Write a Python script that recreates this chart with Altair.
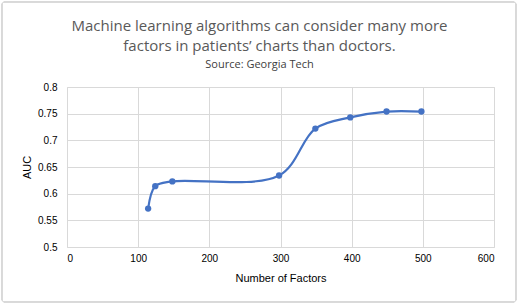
import altair as alt
import pandas as pd

factors = [114, 124, 148, 298, 349, 398, 449, 498]
auc = [0.572, 0.614, 0.623, 0.634, 0.722, 0.743, 0.754, 0.754]

df = pd.DataFrame({"factors": factors, "auc": auc})

FONT = "Open Sans"
GRAY = "#595959"
GRID = "#d9d9d9"
BLUE = "#4472C4"

W, H = 427, 160

base = alt.Chart(df).encode(
    x=alt.X("factors:Q", title="Number of Factors",
            scale=alt.Scale(domain=[0, 600], nice=False, zero=False),
            axis=alt.Axis(values=[0, 100, 200, 300, 400, 500, 600], grid=True,
                          gridColor=GRID, domain=False, ticks=False,
                          labelPadding=6, titlePadding=9, titleFontWeight="normal")),
    y=alt.Y("auc:Q", title="AUC",
            scale=alt.Scale(domain=[0.5, 0.8], nice=False, zero=False),
            axis=alt.Axis(values=[0.5, 0.55, 0.6, 0.65, 0.7, 0.75, 0.8], grid=True,
                          format=".2~f",
                          gridColor=GRID, domain=False, ticks=False,
                          labelPadding=10, titlePadding=5, titleFontWeight="normal")),
)

line = base.mark_line(color=BLUE, strokeWidth=2.2, interpolate="catmull-rom")
pts = base.mark_circle(color=BLUE, size=40, opacity=1)

border = alt.Chart(df).mark_rect(fill=None, stroke=GRID, strokeWidth=1, cornerRadius=3).encode(
    x=alt.value(-65), x2=alt.value(W + 22), y=alt.value(-85), y2=alt.value(H + 55)
)

chart = alt.layer(border, line, pts).properties(
    width=W, height=H,
    title=alt.TitleParams(
        text=["Machine learning algorithms can consider many more",
              "factors in patients\u2019 charts than doctors."],
        subtitle="Source: Georgia Tech",
        anchor="middle", dx=-21, offset=-68,
        font=FONT, fontSize=15, fontWeight="normal", color=GRAY, lineHeight=20,
        subtitleFont=FONT, subtitleFontSize=11, subtitleColor="#404040",
        subtitlePadding=5,
    ),
    autosize="none",
    padding={"left": 67, "top": 87, "right": 24, "bottom": 58},
).configure_view(stroke=None).configure_axis(
    labelFont=FONT, labelFontSize=11, labelColor=GRAY,
    titleFont=FONT, titleFontSize=11, titleColor=GRAY,
).configure(background="white")

chart.save("out.html", embed_options={"renderer": "svg", "actions": False})
